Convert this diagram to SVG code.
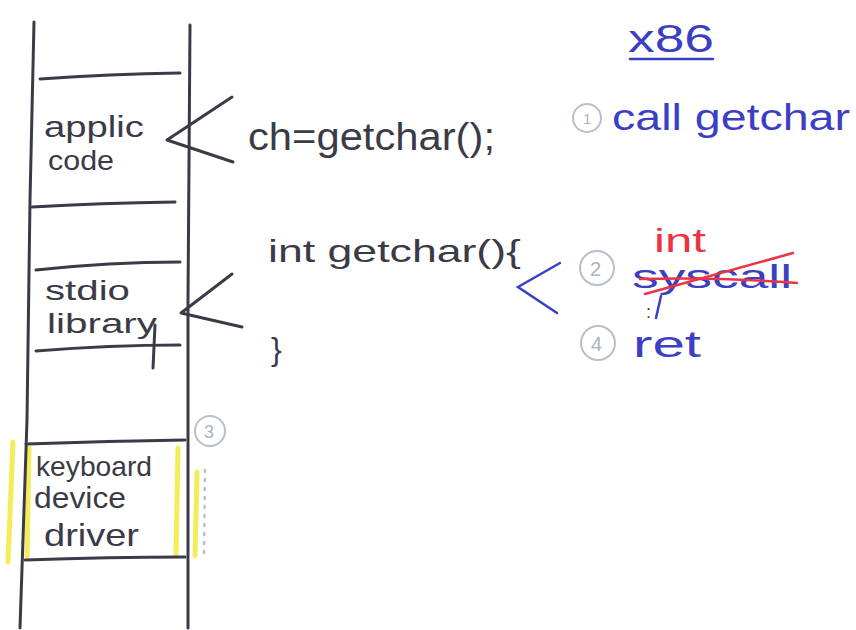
<svg xmlns="http://www.w3.org/2000/svg" width="856" height="630" viewBox="0 0 856 630">
<style>
.ink{fill:none;stroke:#3b3b48;stroke-width:3;stroke-linecap:round;stroke-linejoin:round}
.blue{fill:none;stroke:#3b3fc4;stroke-width:2.5;stroke-linecap:round}
.red{fill:none;stroke:#ec3344;stroke-width:2.5;stroke-linecap:round}
.circ{fill:none;stroke:#b8bfcc;stroke-width:2}
.hl{fill:none;stroke:#f2ea3c;stroke-width:5;stroke-linecap:round;opacity:.85}
text{font-family:"Liberation Sans","DejaVu Sans",sans-serif}
.t{fill:#3b3b48}
.tb{fill:#3b3fc4}
.tr{fill:#ec3344}
.tg{fill:#aab2c2}
</style>
<rect width="856" height="630" fill="#ffffff"/>
<g id="highlights">
<line class="hl" x1="13" y1="442" x2="8" y2="562"/>
<line class="hl" x1="29" y1="448" x2="27" y2="556"/>
<line class="hl" x1="178" y1="448" x2="176" y2="555"/>
<line class="hl" x1="197" y1="472" x2="195" y2="556"/>
</g>
<g id="stack">
<path class="ink" d="M34 22 L30 200 L27 420 L20 628"/>
<path class="ink" d="M190 25 L188 300 L188 628"/>
</g>
<g id="applic-code">
<path class="ink" d="M40 79 Q110 74 180 73"/>
<path class="ink" d="M32 207 Q100 203 175 202"/>
<text class="t" x="44" y="137" font-size="30" textLength="100" lengthAdjust="spacingAndGlyphs">applic</text>
<text class="t" x="48" y="170" font-size="28" textLength="66" lengthAdjust="spacingAndGlyphs">code</text>
</g>
<g id="stdio-library">
<path class="ink" d="M36 270 Q110 262 180 262"/>
<path class="ink" d="M36 351 Q110 345 180 345"/>
<text class="t" x="45" y="300" font-size="28" textLength="85" lengthAdjust="spacingAndGlyphs">stdio</text>
<text class="t" x="47" y="333" font-size="28" textLength="110" lengthAdjust="spacingAndGlyphs">library</text>
<line class="ink" x1="155" y1="325" x2="153" y2="368"/>
</g>
<g id="keyboard-driver">
<path class="ink" d="M26 444 Q110 441 185 440"/>
<path class="ink" d="M25 560 Q110 557 185 557"/>
<text class="t" x="36" y="476" font-size="28" textLength="116" lengthAdjust="spacingAndGlyphs">keyboard</text>
<text class="t" x="34" y="508" font-size="30" textLength="92" lengthAdjust="spacingAndGlyphs">device</text>
<text class="t" x="44" y="546" font-size="32" textLength="95" lengthAdjust="spacingAndGlyphs">driver</text>
</g>
<g id="connectors">
<path class="ink" d="M232 97 L167 140 L233 162"/>
<path class="ink" d="M232 274 L181 313 L242 327"/>
<path class="blue" d="M560 263 L518 287 L557 313"/>
<line x1="205" y1="470" x2="204" y2="556" stroke="#b8bfcc" stroke-width="2.5" stroke-dasharray="2 7" stroke-linecap="round"/>
</g>
<g id="code">
<text class="t" x="248" y="150" font-size="38" textLength="247" lengthAdjust="spacingAndGlyphs">ch=getchar();</text>
<text class="t" x="268" y="262" font-size="32" textLength="253" lengthAdjust="spacingAndGlyphs">int getchar(){</text>
<text class="t" x="271" y="360" font-size="32">}</text>
</g>
<g id="x86">
<text class="tb" x="628" y="52" font-size="38" textLength="86" lengthAdjust="spacingAndGlyphs">x86</text>
<line class="blue" x1="630" y1="59" x2="713" y2="59" stroke-width="3"/>
<circle class="circ" cx="587" cy="118" r="14"/>
<text class="tg" x="583" y="124" font-size="15">1</text>
<text class="tb" x="612" y="130" font-size="36" textLength="238" lengthAdjust="spacingAndGlyphs">call getchar</text>
<circle class="circ" cx="597" cy="268" r="17"/>
<text class="tg" x="590" y="276" font-size="20">2</text>
<text class="tr" x="654" y="252" font-size="34" textLength="52" lengthAdjust="spacingAndGlyphs">int</text>
<text class="tb" x="632" y="288" font-size="34" textLength="160" lengthAdjust="spacingAndGlyphs">syscall</text>
<path class="red" d="M645 294 L793 253"/>
<path class="red" d="M640 279 Q720 277 797 283"/>
<text class="t" x="646" y="318" font-size="18">:</text>
<line class="blue" x1="661" y1="296" x2="656" y2="318"/>
<circle class="circ" cx="598" cy="343" r="17"/>
<text class="tg" x="591" y="351" font-size="20">4</text>
<text class="tb" x="633" y="357" font-size="36" textLength="68" lengthAdjust="spacingAndGlyphs">ret</text>
<circle class="circ" cx="210" cy="431" r="15"/>
<text class="tg" x="204" y="438" font-size="18">3</text>
</g>
</svg>
